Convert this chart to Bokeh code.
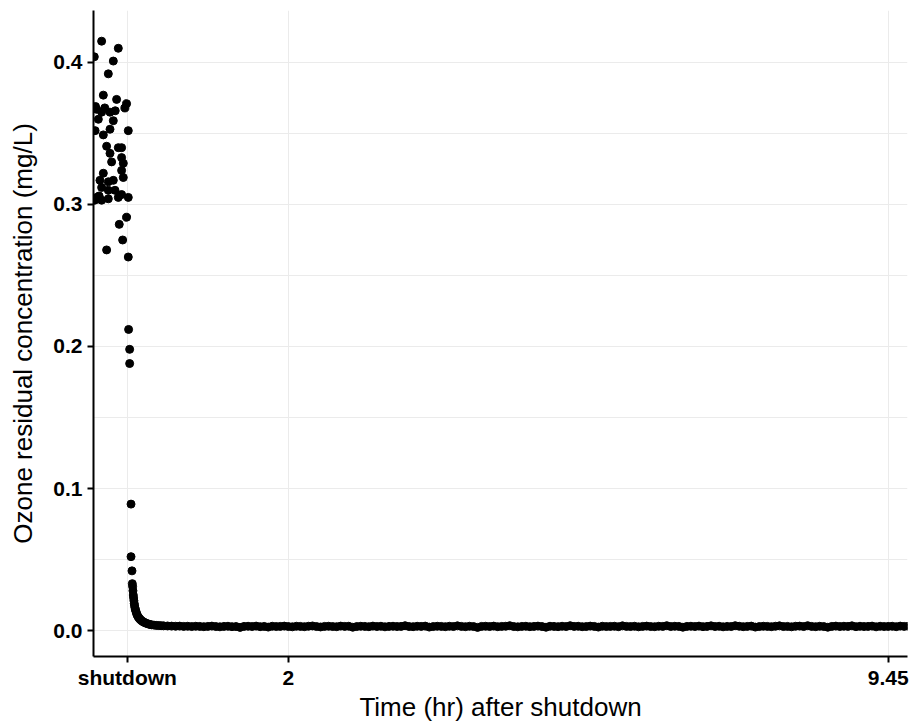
from bokeh.plotting import figure
from bokeh.models import FixedTicker, Range1d, PrintfTickFormatter, ColumnDataSource
from bokeh.embed import file_html
from bokeh.resources import INLINE

# ---- data: time in hours relative to shutdown, ozone residual in mg/L ----
pre_time = [
    -0.319, -0.112, -0.410, -0.174, -0.236, -0.298, -0.133, -0.009, -0.381, -0.319,
    -0.215, -0.360, -0.174, -0.400, -0.215, 0.012, -0.298, -0.071, -0.257, -0.112,
    -0.215, -0.071, -0.195, -0.050, -0.298, -0.071, -0.050, -0.340, -0.236, -0.174,
    -0.319, -0.236, -0.153, -0.071, 0.012, -0.381, -0.319, -0.236, -0.112, -0.405,
    -0.009, -0.100, -0.058, -0.257, 0.012, -0.395, -0.280, -0.150, -0.030, -0.350,
]
pre_value = [
    0.415, 0.410, 0.404, 0.401, 0.392, 0.377, 0.374, 0.371, 0.367, 0.365,
    0.365, 0.360, 0.359, 0.352, 0.353, 0.352, 0.349, 0.340, 0.341, 0.340,
    0.336, 0.333, 0.330, 0.329, 0.322, 0.324, 0.319, 0.317, 0.316, 0.317,
    0.312, 0.310, 0.310, 0.307, 0.305, 0.305, 0.303, 0.304, 0.305, 0.303,
    0.291, 0.286, 0.275, 0.268, 0.263, 0.369, 0.368, 0.366, 0.368, 0.306,
]

decay_time = [
    0.016, 0.029, 0.029, 0.046, 0.046, 0.058, 0.062, 0.066, 0.070, 0.074,
    0.078, 0.082, 0.086, 0.090, 0.095, 0.100, 0.107, 0.114, 0.122, 0.130,
    0.140, 0.150, 0.162, 0.175, 0.190, 0.205, 0.220, 0.240, 0.260, 0.280,
    0.300, 0.330, 0.360, 0.390, 0.420,
]
decay_value = [
    0.212, 0.198, 0.188, 0.089, 0.052, 0.042, 0.033, 0.031, 0.028, 0.025,
    0.023, 0.021, 0.019, 0.0175, 0.016, 0.0148, 0.0135, 0.0122, 0.0110, 0.0100,
    0.0092, 0.0084, 0.0077, 0.0070, 0.0064, 0.0059, 0.0055, 0.0050, 0.0046, 0.0043,
    0.0040, 0.0038, 0.0036, 0.0035, 0.0034,
]

tail_time = [
    0.45, 0.50, 0.55, 0.60, 0.65, 0.70, 0.75, 0.80, 0.85, 0.90,
    0.95, 1.00, 1.05, 1.10, 1.15, 1.20, 1.25, 1.30, 1.35, 1.40,
    1.45, 1.50, 1.55, 1.60, 1.65, 1.70, 1.75, 1.80, 1.85, 1.90,
    1.95, 2.00, 2.05, 2.10, 2.15, 2.20, 2.25, 2.30, 2.35, 2.40,
    2.45, 2.50, 2.55, 2.60, 2.65, 2.70, 2.75, 2.80, 2.85, 2.90,
    2.95, 3.00, 3.05, 3.10, 3.15, 3.20, 3.25, 3.30, 3.35, 3.40,
    3.45, 3.50, 3.55, 3.60, 3.65, 3.70, 3.75, 3.80, 3.85, 3.90,
    3.95, 4.00, 4.05, 4.10, 4.15, 4.20, 4.25, 4.30, 4.35, 4.40,
    4.45, 4.50, 4.55, 4.60, 4.65, 4.70, 4.75, 4.80, 4.85, 4.90,
    4.95, 5.00, 5.05, 5.10, 5.15, 5.20, 5.25, 5.30, 5.35, 5.40,
    5.45, 5.50, 5.55, 5.60, 5.65, 5.70, 5.75, 5.80, 5.85, 5.90,
    5.95, 6.00, 6.05, 6.10, 6.15, 6.20, 6.25, 6.30, 6.35, 6.40,
    6.45, 6.50, 6.55, 6.60, 6.65, 6.70, 6.75, 6.80, 6.85, 6.90,
    6.95, 7.00, 7.05, 7.10, 7.15, 7.20, 7.25, 7.30, 7.35, 7.40,
    7.45, 7.50, 7.55, 7.60, 7.65, 7.70, 7.75, 7.80, 7.85, 7.90,
    7.95, 8.00, 8.05, 8.10, 8.15, 8.20, 8.25, 8.30, 8.35, 8.40,
    8.45, 8.50, 8.55, 8.60, 8.65, 8.70, 8.75, 8.80, 8.85, 8.90,
    8.95, 9.00, 9.05, 9.10, 9.15, 9.20, 9.25, 9.30, 9.35, 9.40,
    9.45, 9.50, 9.55, 9.60, 9.65, 9.70,
]
tail_value = [
    0.0033, 0.0032, 0.0031, 0.0030, 0.0031, 0.0029, 0.0030, 0.0028, 0.0030, 0.0029,
    0.0027, 0.0029, 0.0031, 0.0028, 0.0026, 0.0029, 0.0030, 0.0027, 0.0028, 0.0022,
    0.0029, 0.0030, 0.0028, 0.0031, 0.0027, 0.0029, 0.0024, 0.0030, 0.0028, 0.0029,
    0.0031, 0.0028, 0.0026, 0.0030, 0.0029, 0.0027, 0.0030, 0.0032, 0.0028, 0.0025,
    0.0029, 0.0030, 0.0028, 0.0027, 0.0031, 0.0029, 0.0030, 0.0023, 0.0028, 0.0030,
    0.0029, 0.0027, 0.0031, 0.0028, 0.0030, 0.0026, 0.0029, 0.0030, 0.0028, 0.0029,
    0.0034, 0.0028, 0.0027, 0.0030, 0.0029, 0.0031, 0.0024, 0.0028, 0.0030, 0.0029,
    0.0027, 0.0030, 0.0028, 0.0033, 0.0029, 0.0027, 0.0030, 0.0028, 0.0022, 0.0029,
    0.0030, 0.0028, 0.0031, 0.0027, 0.0029, 0.0030, 0.0034, 0.0028, 0.0026, 0.0029,
    0.0030, 0.0027, 0.0029, 0.0031, 0.0028, 0.0023, 0.0030, 0.0029, 0.0027, 0.0030,
    0.0028, 0.0034, 0.0029, 0.0030, 0.0027, 0.0028, 0.0031, 0.0029, 0.0024, 0.0030,
    0.0028, 0.0029, 0.0030, 0.0027, 0.0033, 0.0029, 0.0028, 0.0030, 0.0026, 0.0029,
    0.0031, 0.0028, 0.0027, 0.0030, 0.0029, 0.0034, 0.0028, 0.0030, 0.0029, 0.0023,
    0.0029, 0.0030, 0.0028, 0.0031, 0.0027, 0.0029, 0.0033, 0.0028, 0.0030, 0.0026,
    0.0029, 0.0028, 0.0034, 0.0030, 0.0027, 0.0029, 0.0031, 0.0024, 0.0028, 0.0030,
    0.0029, 0.0027, 0.0030, 0.0033, 0.0028, 0.0029, 0.0026, 0.0030, 0.0031, 0.0028,
    0.0034, 0.0029, 0.0027, 0.0030, 0.0028, 0.0023, 0.0029, 0.0031, 0.0028, 0.0030,
    0.0029, 0.0033, 0.0027, 0.0030, 0.0028, 0.0029, 0.0031, 0.0026, 0.0030, 0.0028,
    0.0029, 0.0030, 0.0027, 0.0031, 0.0029, 0.0030,
]

x_ticks = [0, 2, 9.45]
x_tick_labels = ["shutdown", "2", "9.45"]
y_ticks = [0.0, 0.1, 0.2, 0.3, 0.4]
y_minor = [0.05, 0.15, 0.25, 0.35]

all_time = pre_time + decay_time + tail_time
all_value = pre_value + decay_value + tail_value
src = ColumnDataSource(dict(t=all_time, v=all_value))

p = figure(width=912, height=726, output_backend="svg", toolbar_location=None,
           x_range=Range1d(-0.42, 9.69), y_range=Range1d(-0.0183, 0.4366),
           min_border_left=93, min_border_right=5, min_border_top=10,
           min_border_bottom=70)
p.outline_line_color = None
p.background_fill_color = "white"

p.scatter("t", "v", source=src, size=8, color="black")

FONT = "Liberation Sans"

p.xaxis.ticker = FixedTicker(ticks=x_ticks)
p.xaxis.major_label_overrides = {k: l for k, l in zip(x_ticks, x_tick_labels)}
p.yaxis.ticker = FixedTicker(ticks=y_ticks, minor_ticks=y_minor)
p.yaxis.formatter = PrintfTickFormatter(format="%.1f")

for ax in (p.xaxis, p.yaxis):
    ax.axis_line_color = "black"
    ax.axis_line_width = 2
    ax.major_tick_line_color = "black"
    ax.major_tick_line_width = 2
    ax.major_tick_out = 6
    ax.major_tick_in = 0
    ax.minor_tick_line_color = None
    ax.major_label_text_font = FONT
    ax.major_label_text_font_style = "bold"
    ax.major_label_text_font_size = "21px"
    ax.major_label_text_color = "black"
    ax.major_label_standoff = 5
    ax.axis_label_text_font = FONT
    ax.axis_label_text_font_style = "normal"
    ax.axis_label_text_font_size = "26px"
    ax.axis_label_text_color = "black"

p.xaxis.major_label_standoff = 3
p.xaxis.axis_label = "Time (hr) after shutdown"
p.yaxis.axis_label = "Ozone residual concentration (mg/L)"
p.xaxis.axis_label_standoff = 0
p.yaxis.axis_label_standoff = 12

p.xgrid.ticker = FixedTicker(ticks=x_ticks)
p.xgrid.grid_line_color = "#ebebeb"
p.xgrid.grid_line_width = 1
p.ygrid.ticker = FixedTicker(ticks=y_ticks, minor_ticks=y_minor)
p.ygrid.grid_line_color = "#ebebeb"
p.ygrid.grid_line_width = 1
p.ygrid.minor_grid_line_color = "#ebebeb"
p.ygrid.minor_grid_line_width = 1

open("out.html", "w").write(file_html(p, INLINE))
